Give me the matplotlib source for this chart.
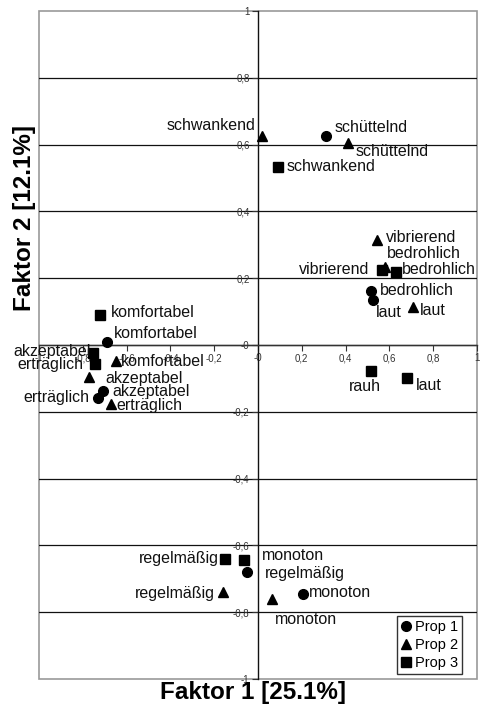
import numpy as np
import matplotlib.pyplot as plt
from matplotlib.patches import Rectangle
from matplotlib.ticker import FuncFormatter

plt.rcParams['font.family'] = ['Liberation Sans', 'DejaVu Sans']

# ---- Daten: Faktorwerte je Eigenschaft ----
# Prop 1 (Kreis)
p1_labels = ['schüttelnd', 'bedrohlich', 'laut', 'komfortabel', 'akzeptabel',
             'erträglich', 'regelmäßig', 'monoton']
p1_x = [0.31, 0.518, 0.527, -0.69, -0.71, -0.73, -0.05, 0.205]
p1_y = [0.626, 0.162, 0.135, 0.009, -0.138, -0.159, -0.68, -0.745]

# Prop 2 (Dreieck)
p2_labels = ['schwankend', 'schüttelnd', 'vibrierend', 'bedrohlich', 'laut',
             'komfortabel', 'akzeptabel', 'erträglich', 'regelmäßig', 'monoton']
p2_x = [0.02, 0.41, 0.545, 0.58, 0.71, -0.65, -0.77, -0.67, -0.16, 0.064]
p2_y = [0.626, 0.605, 0.314, 0.233, 0.114, -0.048, -0.096, -0.177, -0.74, -0.76]

# Prop 3 (Quadrat)
p3_labels = ['schwankend', 'vibrierend', 'bedrohlich', 'rauh', 'laut',
             'komfortabel', 'akzeptabel', 'erträglich', 'regelmäßig', 'monoton']
p3_x = [0.09, 0.564, 0.63, 0.518, 0.68, -0.72, -0.755, -0.745, -0.15, -0.064]
p3_y = [0.533, 0.225, 0.219, -0.078, -0.10, 0.09, -0.024, -0.057, -0.64, -0.644]

# ---- Beschriftungs-Versatz (Pixel, Ausrichtung) ----
p1_off = [(9, 8, 'left'), (8, 0, 'left'), (2, -13, 'left'), (7, 8, 'left'),
          (10, 0, 'left'), (-9, 1, 'right'), (18, -1, 'left'), (6, 1, 'left')]
p2_off = [(-7, 10, 'right'), (8, -9, 'left'), (9, 3, 'left'), (2, 14, 'left'),
          (6, -4, 'left'), (5, 0, 'left'), (16, -1, 'left'), (5, -1, 'left'),
          (-8, -1, 'right'), (3, -21, 'left')]
p3_off = [(9, 0, 'left'), (-12, 0, 'right'), (6, 2, 'left'), (-7, -15, 'center'),
          (9, -7, 'left'), (11, 2, 'left'), (-2, 2, 'right'), (-11, 0, 'right'),
          (-6, 0, 'right'), (18, 5, 'left')]

fig = plt.figure(figsize=(4.81, 7.11), dpi=100)
ax = fig.add_axes([39 / 481, 32 / 711, 438 / 481, 668 / 711])
ax.set_xlim(-1, 1)
ax.set_ylim(-1, 1)

# horizontale Gitterlinien
for g in np.arange(-0.8, 0.81, 0.2):
    ax.axhline(g, color='#111111', lw=0.9, zorder=1)

# Achsen durch den Ursprung
for s in ['top', 'right']:
    ax.spines[s].set_visible(False)
ax.spines['left'].set_position('zero')
ax.spines['bottom'].set_position('zero')
ax.spines['left'].set_color('#111111')
ax.spines['bottom'].set_color('#333333')
ax.spines['left'].set_linewidth(1)
ax.spines['bottom'].set_linewidth(1)

# grauer Rahmen
ax.add_patch(Rectangle((0, 0), 1, 1, transform=ax.transAxes, fill=False,
                       edgecolor='#999999', lw=1.2, zorder=0, clip_on=False))

ticks = np.round(np.arange(-1, 1.01, 0.2), 1)
fmt = FuncFormatter(lambda v, p: ('%g' % round(v, 1)).replace('.', ','))
ax.set_xticks(ticks)
ax.set_yticks(ticks)
ax.xaxis.set_major_formatter(fmt)
ax.yaxis.set_major_formatter(fmt)
ax.tick_params(axis='both', labelsize=7, length=4, width=0.8, direction='out',
               pad=2, colors='#333333')

markers = [('o', 'Prop 1', p1_labels, p1_x, p1_y, p1_off, 7),
           ('^', 'Prop 2', p2_labels, p2_x, p2_y, p2_off, 7),
           ('s', 'Prop 3', p3_labels, p3_x, p3_y, p3_off, 6.5)]

for m, name, labs, xs, ys, offs, ms in markers:
    ax.plot(xs, ys, linestyle='none', marker=m, color='black', ms=ms,
            label=name, zorder=3, clip_on=False)
    for lab, x, y, (dx, dy, ha) in zip(labs, xs, ys, offs):
        ax.annotate(lab, (x, y), xytext=(dx, dy), textcoords='offset pixels',
                    ha=ha, va='center', fontsize=11.5, color='#111111', zorder=4)

leg = ax.legend(loc='lower right', bbox_to_anchor=(0.966, 0.0075),
                borderaxespad=0, fontsize=10.5, frameon=True, fancybox=False,
                handlelength=0.6, handletextpad=0.3, labelspacing=0.25,
                borderpad=0.3)
leg.get_frame().set_edgecolor('black')
leg.get_frame().set_linewidth(1)

fig.text(253 / 481, 1 - 693 / 711, 'Faktor 1 [25.1%]', ha='center', va='center',
         fontsize=17.5, fontweight='bold')
fig.text(25 / 481, 1 - 218 / 711, 'Faktor 2 [12.1%]', ha='center', va='center',
         rotation=90, fontsize=17.5, fontweight='bold')

fig.savefig('out.png', dpi=100, facecolor='white')
